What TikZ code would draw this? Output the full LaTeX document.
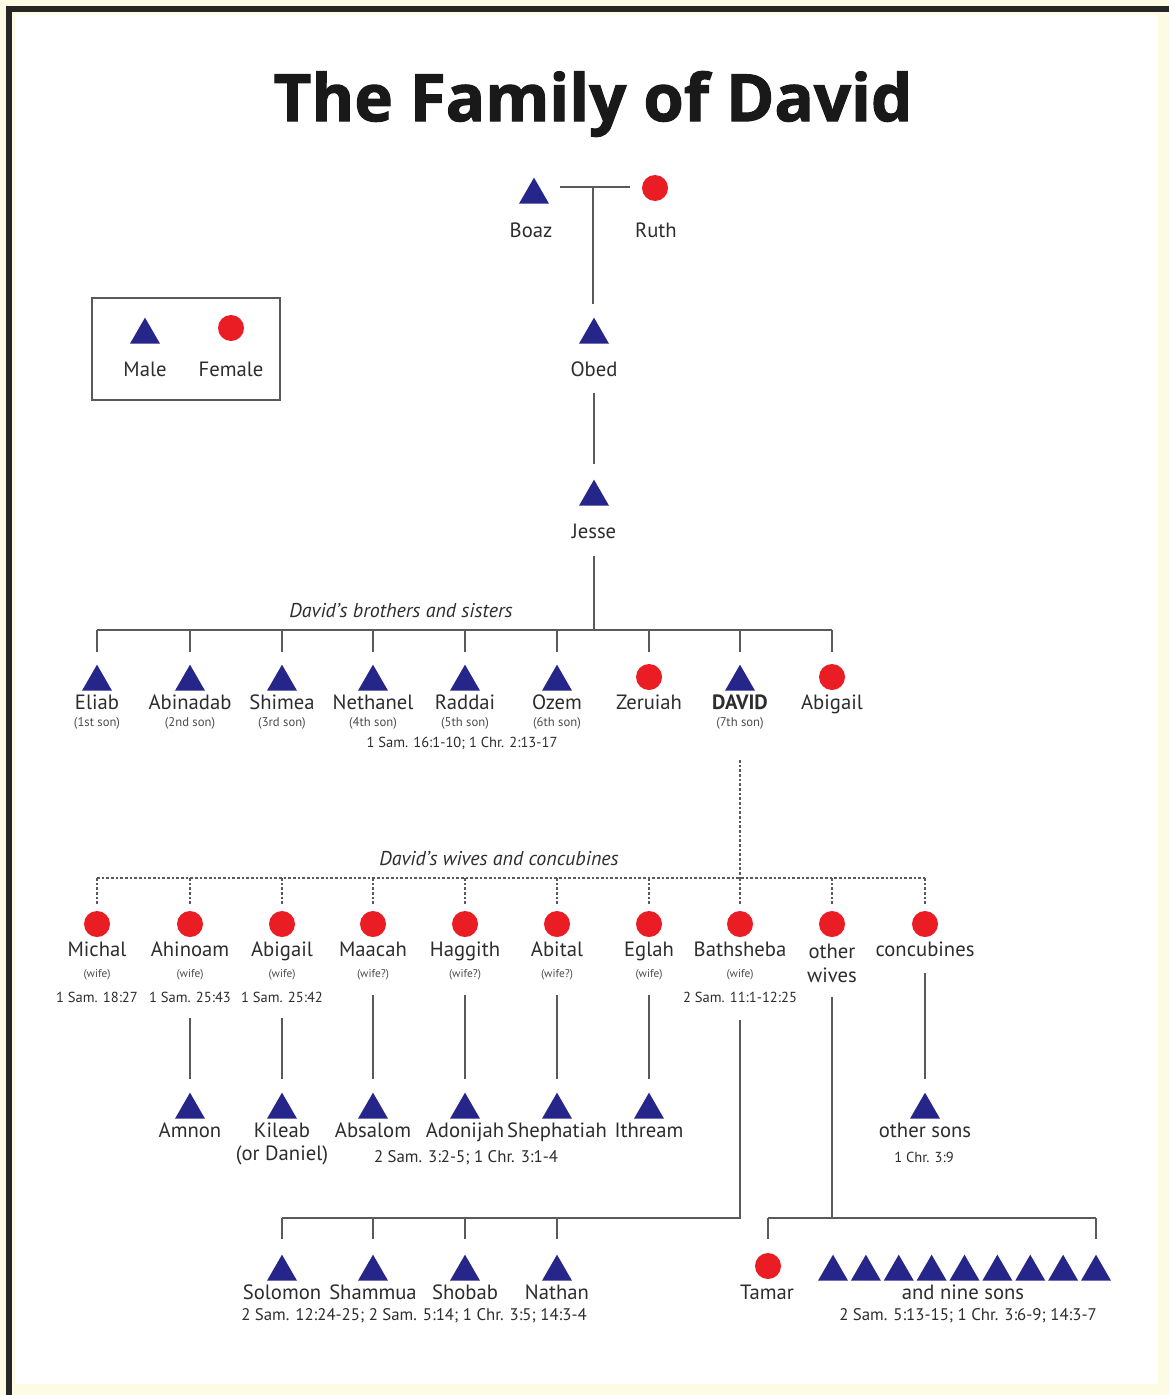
\documentclass[tikz,border=0pt]{standalone}
\usepackage{fontspec}
\setmainfont{PT Sans}
\newfontfamily\titlefont{Open Sans}[BoldFeatures={FakeBold=1.6}]
\usetikzlibrary{shapes.geometric}
\definecolor{navy}{RGB}{38,38,138}
\definecolor{fred}{RGB}{234,28,36}
\definecolor{lgray}{RGB}{90,90,90}
\definecolor{cream}{RGB}{253,251,228}
\definecolor{txt}{RGB}{45,45,45}
\tikzset{
  male/.style={regular polygon, regular polygon sides=3, fill=navy, draw=none, minimum size=26pt, inner sep=0pt},
  female/.style={circle, fill=fred, draw=none, minimum size=19.5pt, inner sep=0pt},
  nm/.style={text=txt, font=\fontsize{15.5}{15.5}\selectfont, inner sep=1pt, text height=11pt, text depth=3pt},
  sm/.style={text=txt!85, font=\fontsize{9.5}{9.5}\selectfont, inner sep=1pt, text height=7pt, text depth=2pt},
  smw/.style={text=txt!85, font=\fontsize{8.5}{8.5}\selectfont, inner sep=1pt, text height=6pt, text depth=2pt},
  rf/.style={text=txt, font=\fontsize{10.9}{10.9}\selectfont, inner sep=1pt, text height=8pt, text depth=2pt},
  rfb/.style={text=txt, font=\fontsize{12.6}{12.6}\selectfont, inner sep=1pt, text height=9pt, text depth=3pt},
  it/.style={text=txt, font=\fontsize{15}{15}\selectfont\itshape, inner sep=1pt, text height=11pt, text depth=3pt},
  ln/.style={draw=lgray, line width=1.5pt},
  dl/.style={draw=lgray, line width=1.2pt, dash pattern=on 2pt off 1.5pt}
}
\begin{document}
\begin{tikzpicture}[x=0.75pt,y=-0.75pt]
\useasboundingbox (0,0) rectangle (1169,1395);
% frame
\fill[cream] (0,0) rectangle (1169,1395);
\fill[white] (15,15) rectangle (1158,1384);
\draw[black!85, line width=3.8pt] (9,1395) -- (9,9) -- (1169,9);
% title
\node[text=black!90, font=\titlefont\fontsize{49}{49}\selectfont\bfseries] (title) at (593,104) {The Family of David};
% legend
\draw[gray!70!black, line width=1pt] (92,298) rectangle (280,400);
\node[male] (legm) at (145,335) {};
\node[female] (legf) at (231,328) {};
\node[nm] (legmN) at (145,371) {Male};
\node[nm] (legfN) at (231,371) {Female};
% Boaz, Ruth, Obed, Jesse
\node[male] (boaz) at (534,195) {};
\node[female] (ruth) at (655,188) {};
\node[nm] (boazN) at (531,232) {Boaz};
\node[nm] (ruthN) at (656,232) {Ruth};
\coordinate (bzr) at (593,187);
\draw[ln] ([xshift=12pt]boaz.east |- bzr) -- ([xshift=-9pt]ruth.west |- bzr);
\node[male] (obed) at (594,335) {};
\node[nm] (obedN) at (594,371) {Obed};
\draw[ln, shorten >=10pt] (bzr) -- (bzr |- obed.north);
\node[male] (jesse) at (594,497) {};
\node[nm] (jesseN) at (594,533) {Jesse};
\draw[ln, shorten <=8pt, shorten >=11pt] (obedN.south) -- (obedN.south |- jesse.north);
% siblings
\coordinate (sb) at (594,630);
\draw[ln, shorten <=9pt] (jesseN.south) -- (sb);
\node[it] (sibL) at (401,612) {David’s brothers and sisters};
\node[male] (eliab) at (97,682) {};
\node[male] (abinadab) at (190,682) {};
\node[male] (shimea) at (282,682) {};
\node[male] (nethanel) at (373,682) {};
\node[male] (raddai) at (465,682) {};
\node[male] (ozem) at (557,682) {};
\node[female] (zeruiah) at (649,677) {};
\node[male] (david) at (740,682) {};
\node[female] (abigailS) at (832,677) {};
\draw[ln] (eliab |- sb) -- (abigailS |- sb);
\foreach \n in {eliab,abinadab,shimea,nethanel,raddai,ozem,zeruiah,david,abigailS}
  \draw[ln] (\n |- sb) -- ([yshift=9pt]\n.north);
\node[nm] (eliabN) at (97,704) {Eliab};
\node[nm] (abinadabN) at (190,704) {Abinadab};
\node[nm] (shimeaN) at (282,704) {Shimea};
\node[nm] (nethanelN) at (373,704) {Nethanel};
\node[nm] (raddaiN) at (465,704) {Raddai};
\node[nm] (ozemN) at (557,704) {Ozem};
\node[nm] (zeruiahN) at (649,704) {Zeruiah};
\node[nm, font=\fontsize{15.5}{15.5}\selectfont\bfseries] (davidN) at (740,704) {DAVID};
\node[nm] (abigailSN) at (832,704) {Abigail};
\node[sm] (eliabS) at (97,723) {(1st son)};
\node[sm] (abinadabS) at (190,723) {(2nd son)};
\node[sm] (shimeaS) at (282,723) {(3rd son)};
\node[sm] (nethanelS) at (373,723) {(4th son)};
\node[sm] (raddaiS) at (465,723) {(5th son)};
\node[sm] (ozemS) at (557,723) {(6th son)};
\node[sm] (davidS) at (740,723) {(7th son)};
\node[rf] (sibR) at (462,743) {1 Sam. 16:1-10; 1 Chr. 2:13-17};
% wives
\coordinate (wb) at (740,878);
\draw[dl, shorten <=22pt] (davidS.south) -- (wb);
\node[it] (wivL) at (499,860) {David’s wives and concubines};
\node[female] (michal) at (97,924) {};
\node[female] (ahinoam) at (190,924) {};
\node[female] (abigailW) at (282,924) {};
\node[female] (maacah) at (373,924) {};
\node[female] (haggith) at (465,924) {};
\node[female] (abital) at (557,924) {};
\node[female] (eglah) at (649,924) {};
\node[female] (bathsheba) at (740,924) {};
\node[female] (otherw) at (832,924) {};
\node[female] (concub) at (925,924) {};
\draw[dl] (michal |- wb) -- (concub |- wb);
\foreach \n in {michal,ahinoam,abigailW,maacah,haggith,abital,eglah,bathsheba,otherw,concub}
  \draw[dl] (\n |- wb) -- ([yshift=4pt]\n.north);
\node[nm] (michalN) at (97,951) {Michal};
\node[nm] (ahinoamN) at (190,951) {Ahinoam};
\node[nm] (abigailWN) at (282,951) {Abigail};
\node[nm] (maacahN) at (373,951) {Maacah};
\node[nm] (haggithN) at (465,951) {Haggith};
\node[nm] (abitalN) at (557,951) {Abital};
\node[nm] (eglahN) at (649,951) {Eglah};
\node[nm] (bathshebaN) at (740,951) {Bathsheba};
\node[nm, align=center, font=\fontsize{15.5}{18}\selectfont, text height=, text depth=] (otherwN) at (832,963) {other\\wives};
\node[nm] (concubN) at (925,951) {concubines};
\node[smw] (michalS) at (97,975) {(wife)};
\node[smw] (ahinoamS) at (190,975) {(wife)};
\node[smw] (abigailWS) at (282,975) {(wife)};
\node[smw] (maacahS) at (373,975) {(wife?)};
\node[smw] (haggithS) at (465,975) {(wife?)};
\node[smw] (abitalS) at (557,975) {(wife?)};
\node[smw] (eglahS) at (649,975) {(wife)};
\node[smw] (bathshebaS) at (740,975) {(wife)};
\node[rf] (michalR) at (97,998) {1 Sam. 18:27};
\node[rf] (ahinoamR) at (190,998) {1 Sam. 25:43};
\node[rf] (abigailWR) at (282,998) {1 Sam. 25:42};
\node[rf] (bathshebaR) at (740,998) {2 Sam. 11:1-12:25};
% children of wives
\node[male] (amnon) at (190,1110) {};
\node[male] (kileab) at (282,1110) {};
\node[male] (absalom) at (373,1110) {};
\node[male] (adonijah) at (465,1110) {};
\node[male] (shephatiah) at (557,1110) {};
\node[male] (ithream) at (649,1110) {};
\node[male] (othersons) at (925,1110) {};
\draw[ln, shorten <=9pt, shorten >=10pt] (ahinoamR.south) -- (amnon.north);
\draw[ln, shorten <=9pt, shorten >=10pt] (abigailWR.south) -- (kileab.north);
\draw[ln, shorten <=10pt, shorten >=10pt] (maacahS.south) -- (absalom.north);
\draw[ln, shorten <=10pt, shorten >=10pt] (haggithS.south) -- (adonijah.north);
\draw[ln, shorten <=10pt, shorten >=10pt] (abitalS.south) -- (shephatiah.north);
\draw[ln, shorten <=10pt, shorten >=10pt] (eglahS.south) -- (ithream.north);
\draw[ln, shorten <=8pt, shorten >=10pt] (concubN.south) -- (othersons.north);
\node[nm] (amnonN) at (190,1132) {Amnon};
\node[nm] (kileabN) at (282,1132) {Kileab};
\node[nm] (kileabD) at (282,1155) {(or Daniel)};
\node[nm] (absalomN) at (373,1132) {Absalom};
\node[nm] (adonijahN) at (465,1132) {Adonijah};
\node[nm] (shephatiahN) at (557,1132) {Shephatiah};
\node[nm] (ithreamN) at (649,1132) {Ithream};
\node[nm] (othersonsN) at (925,1132) {other sons};
\node[rfb] (hebronR) at (466,1158) {2 Sam. 3:2-5; 1 Chr. 3:1-4};
\node[rf] (othersonsR) at (924,1158) {1 Chr. 3:9};
% Bathsheba's sons
\node[male] (solomon) at (282,1272) {};
\node[male] (shammua) at (373,1272) {};
\node[male] (shobab) at (465,1272) {};
\node[male] (nathan) at (557,1272) {};
\coordinate (bj) at (741,1218);
\draw[ln, shorten <=10pt] (bathshebaR.south) -- (bathshebaR.south |- bj) -- (solomon |- bj);
\foreach \n in {solomon,shammua,shobab,nathan}
  \draw[ln] (\n |- bj) -- ([yshift=11pt]\n.north);
\node[nm] (solomonN) at (282,1294) {Solomon};
\node[nm] (shammuaN) at (373,1294) {Shammua};
\node[nm] (shobabN) at (465,1294) {Shobab};
\node[nm] (nathanN) at (557,1294) {Nathan};
\node[rfb] (bathR) at (414,1316) {2 Sam. 12:24-25; 2 Sam. 5:14; 1 Chr. 3:5; 14:3-4};
% other wives' children
\node[female] (tamar) at (768,1266) {};
\foreach \i in {1,...,9}
  \node[male] (s\i) at ({833+32.875*(\i-1)},1272) {};
\coordinate (ow) at (832,1218);
\draw[ln, shorten <=10pt] (otherwN.south) -- (ow);
\draw[ln] (tamar |- ow) -- (s9 |- ow);
\draw[ln] (tamar |- ow) -- ([yshift=10pt]tamar.north);
\draw[ln] (s9 |- ow) -- ([yshift=11pt]s9.north);
\node[nm] (tamarN) at (767,1294) {Tamar};
\node[nm] (nineN) at (963,1294) {and nine sons};
\node[rfb] (nineR) at (968,1316) {2 Sam. 5:13-15; 1 Chr. 3:6-9; 14:3-7};
\end{tikzpicture}
\end{document}
